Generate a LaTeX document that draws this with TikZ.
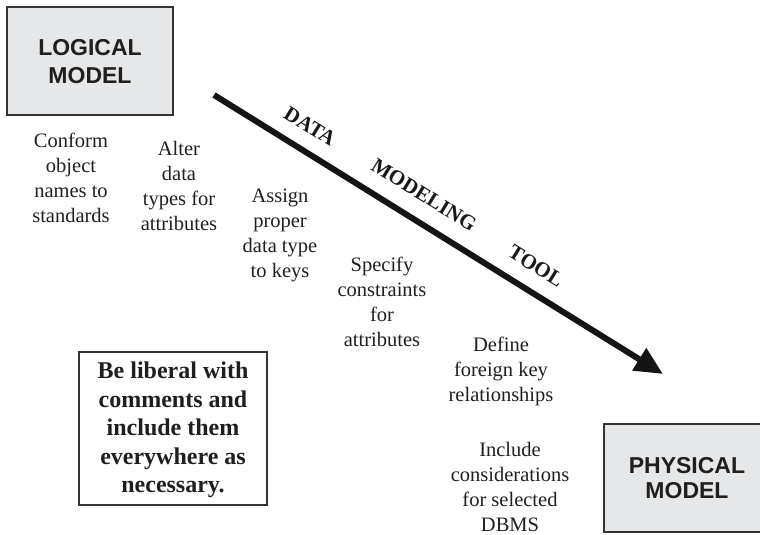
\documentclass[tikz,border=0pt]{standalone}
\usepackage{fontspec}
\setmainfont{Liberation Serif}
\setsansfont{Liberation Sans}
\usetikzlibrary{arrows.meta}
\definecolor{boxgray}{HTML}{E6E7E8}
\definecolor{edgegray}{HTML}{333333}
\tikzset{
  modelbox/.style={draw=edgegray, line width=1.5pt, fill=boxgray},
  modeltext/.style={font=\sffamily\bfseries\fontsize{23}{28}\selectfont, align=center, text=black!88},
  steptext/.style={font=\fontsize{20.5}{25}\selectfont, align=center, text=black!88, inner sep=0pt},
  tooltext/.style={font=\bfseries\fontsize{21}{25}\selectfont, rotate=-31.8, text=black!90, inner sep=0pt},
  notetext/.style={font=\bfseries\fontsize{24}{28.5}\selectfont, align=center, text=black!88, inner sep=0pt},
  flowarrow/.style={line width=6pt, black!92, -{Triangle[length=28pt,width=25pt]}}
}
\begin{document}
\begin{tikzpicture}[x=1pt,y=-1pt]
\useasboundingbox (0,0) rectangle (760,535);
\clip (0,0) rectangle (760,535);
% boxes
\draw[modelbox] (7,7) rectangle (173,115);
\node[modeltext] (logical) at (90,62) {LOGICAL\\MODEL};
\draw[modelbox] (604,424) rectangle (771,532);
\node[modeltext, font=\sffamily\bfseries\fontsize{23}{25}\selectfont] (physical) at (687,478) {PHYSICAL\\MODEL};
\draw[draw=edgegray, line width=1.3pt, fill=white] (79,352) rectangle (267,505);
\node[notetext] (note) at (173,430) {Be liberal with\\comments and\\include them\\everywhere as\\necessary.};
% arrow
\coordinate (astart) at (214,95);
\coordinate (aend) at (663,374);
\draw[flowarrow, line cap=butt] (astart) -- (aend);
\node[tooltext] (t1) at (310,126) {DATA};
\node[tooltext] (t2) at (424,195) {MODELING};
\node[tooltext] (t3) at (536,266) {TOOL};
% steps
\node[steptext] (s1) at (71,178) {Conform\\object\\names to\\standards};
\node[steptext] (s2) at (179,186) {Alter\\data\\types for\\attributes};
\node[steptext] (s3) at (280,235) {Assign\\proper\\data type\\to keys};
\node[steptext] (s4) at (382,302) {Specify\\constraints\\for\\attributes};
\node[steptext] (s5) at (501,371) {Define\\foreign key\\relationships};
\node[steptext] (s6) at (510,487) {Include\\considerations\\for selected\\DBMS};
\end{tikzpicture}
\end{document}
